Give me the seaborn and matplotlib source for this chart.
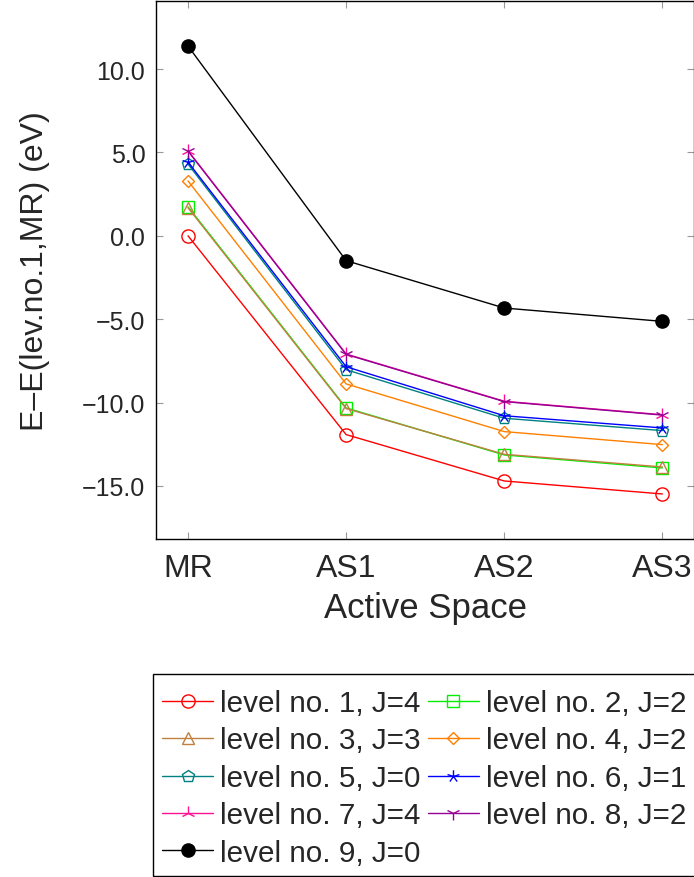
import numpy as np
import pandas as pd
import matplotlib
matplotlib.use("Agg")
import matplotlib.pyplot as plt
from matplotlib.path import Path
from matplotlib.patches import Rectangle
from matplotlib.ticker import FuncFormatter, FixedLocator
import seaborn as sns

categories = ["MR", "AS1", "AS2", "AS3"]

level1 = [0.0, -11.92, -14.70, -15.48]
level2 = [1.74, -10.32, -13.14, -13.92]
level3 = [1.68, -10.36, -13.10, -13.86]
level4 = [3.29, -8.88, -11.74, -12.52]
level5 = [4.30, -8.03, -10.94, -11.68]
level6 = [4.42, -7.85, -10.79, -11.52]
level7 = [5.10, -7.09, -9.92, -10.73]
level8 = [5.08, -7.11, -9.94, -10.75]
level9 = [11.38, -1.49, -4.33, -5.13]

labels = ["level no. 1, J=4", "level no. 2, J=2", "level no. 3, J=3",
          "level no. 4, J=2", "level no. 5, J=0", "level no. 6, J=1",
          "level no. 7, J=4", "level no. 8, J=2", "level no. 9, J=0"]
series = [level1, level2, level3, level4, level5, level6, level7, level8, level9]

yticks = [-15.0, -10.0, -5.0, 0.0, 5.0, 10.0]

sns.set_theme(style="white")
plt.rcParams["font.family"] = ["Liberation Sans", "DejaVu Sans"]

# five-spoke star (pgfplots "star")
verts, codes = [], []
for k in range(5):
    a = np.deg2rad(90 + 72 * k)
    verts += [(0, 0), (np.cos(a), np.sin(a))]
    codes += [Path.MOVETO, Path.LINETO]
star5 = Path(verts, codes)

colors = ["#ff0000", "#00ee00", "#bf8040", "#ff8000", "#008080",
          "#0000ff", "#ff1090", "#950095", "#000000"]
markers = ["o", "s", "^", "D", "p", star5, "2", "1", "o"]
msizes = [9.5, 9, 9, 6.5, 9, 9, 10, 10, 9.5]
filled = [False] * 8 + [True]

fig = plt.figure(figsize=(6.94, 8.78), dpi=100)
ax = fig.add_axes([156.4 / 694, 1 - 540 / 878, (694 - 156.4) / 694, 538 / 878])

xpos = np.arange(len(categories))
for lab, vals, c, m, ms, f in zip(labels, series, colors, markers, msizes, filled):
    df = pd.DataFrame({"x": xpos, "y": vals})
    sns.lineplot(data=df, x="x", y="y", ax=ax, color=c, marker=m,
                 markersize=ms, markerfacecolor=c if f else "none",
                 markeredgecolor=c, markeredgewidth=1.0, linewidth=1.0,
                 label=lab, legend=False)

ax.set_xlim(-0.2, 3.2)
ax.set_ylim(-18.18, 14.08)
ax.xaxis.set_major_locator(FixedLocator(xpos))
ax.set_xticklabels(categories)
ax.yaxis.set_major_locator(FixedLocator(yticks))
ax.yaxis.set_major_formatter(FuncFormatter(lambda v, p: f"{v:.1f}".replace("-", "\u2212")))
ax.tick_params(axis="both", direction="in", length=5, width=0.8, color="#999999",
               top=True, right=True, left=True, bottom=True)
ax.tick_params(axis="y", labelsize=18, pad=8)
ax.tick_params(axis="x", labelsize=23, pad=10)
for s in ax.spines.values():
    s.set_color("black")
    s.set_linewidth(1.0)
ax.set_xlabel("Active Space", fontsize=25, labelpad=6)
ax.set_ylabel("E\u2013E(lev.no.1,MR) (eV)", fontsize=23, labelpad=23)
ax.grid(False)

handles, labs = ax.get_legend_handles_labels()
order = [0, 2, 4, 6, 8, 1, 3, 5, 7]
leg = fig.legend([handles[i] for i in order], [labs[i] for i in order],
                 loc="lower left", bbox_to_anchor=(153 / 694, 1 / 878),
                 bbox_transform=fig.transFigure, ncol=2, fontsize=21.3,
                 frameon=False,
                 handlelength=1.72, handletextpad=0.24, columnspacing=0.24,
                 labelspacing=0.32, borderpad=0.31, borderaxespad=0.0)

# legend frame (runs past the right edge, as in the reference)
fig.patches.append(Rectangle((153 / 694, 1 / 878), (710 - 153) / 694, (877 - 675) / 878,
                             transform=fig.transFigure, fill=False,
                             edgecolor="black", linewidth=1.0, zorder=0))

fig.savefig("out.png", dpi=100)
